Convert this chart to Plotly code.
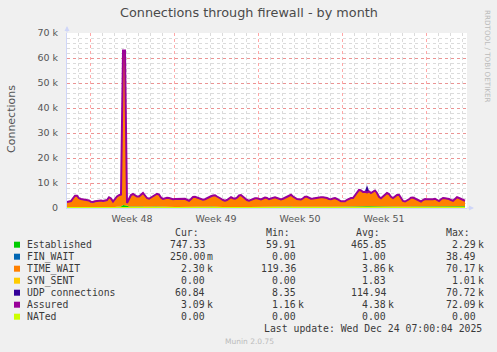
import plotly.graph_objects as go
import pandas as pd

# ---------------- data (values in thousands of connections) ----------------
START = "2025-11-21 02:00"
STEP = "4h"

ASSURED = [
    2.4, 2.6, 2.8, 3.9, 4.9, 4.9, 3.9, 3.6, 3.5, 3.4,
    3.3, 3.0, 2.5, 2.4, 2.7, 2.9, 3.0, 3.0, 2.8, 2.9,
    3.2, 4.3, 3.8, 2.6, 3.7, 4.6, 5.1, 5.4, 63.0, 63.0,
    2.0, 3.8, 5.2, 5.6, 5.0, 4.6, 4.6, 5.2, 6.0, 5.0,
    4.0, 3.7, 4.2, 4.4, 5.0, 5.7, 5.4, 4.2, 3.6, 3.9,
    4.1, 4.0, 3.7, 3.5, 3.6, 3.6, 3.7, 3.6, 3.6, 3.7,
    3.3, 2.9, 3.6, 4.4, 4.5, 4.2, 3.7, 3.5, 3.3, 3.5,
    4.0, 4.3, 4.7, 5.0, 5.1, 4.6, 4.0, 3.7, 3.2, 2.9,
    3.2, 3.8, 4.3, 3.9, 3.7, 4.1, 5.0, 5.2, 4.4, 3.7,
    3.2, 2.9, 3.3, 3.6, 3.9, 3.9, 3.6, 3.4, 3.8, 4.2,
    4.0, 3.5, 3.8, 4.0, 4.3, 4.0, 3.7, 3.4, 3.7, 4.1,
    4.5, 5.0, 5.3, 4.6, 4.0, 3.6, 3.5, 3.4, 3.9, 4.5,
    4.5, 4.0, 3.7, 3.8, 4.0, 4.2, 4.3, 4.3, 4.3, 4.3,
    4.0, 3.6, 3.5, 3.8, 4.0, 3.6, 3.0, 2.7, 2.7, 2.7,
    3.3, 3.8, 4.0, 4.0, 5.0, 6.1, 7.2, 7.0, 6.4, 6.5,
    6.2, 6.6, 6.0, 6.5, 7.0, 6.0, 4.5, 3.9, 4.6, 5.4,
    6.0, 5.6, 4.5, 4.0, 4.5, 5.2, 5.3, 4.2, 2.8, 2.6,
    2.9, 3.5, 4.1, 4.2, 3.8, 3.4, 2.8, 2.6, 3.2, 3.6,
    3.5, 3.4, 3.4, 3.5, 3.7, 3.1, 2.8, 3.5, 4.0, 3.9,
    3.8, 3.6, 3.2, 2.9, 3.6, 4.3, 4.0, 3.6, 3.3, 2.9,
]

TIME_WAIT = [
    1.8, 2.0, 2.2, 3.3, 4.3, 4.3, 3.3, 3.0, 2.9, 2.8,
    2.7, 2.4, 1.9, 1.8, 2.1, 2.3, 2.4, 2.4, 2.2, 2.3,
    2.6, 3.7, 3.2, 2.0, 3.1, 4.0, 4.5, 4.8, 61.0, 61.0,
    0.8, 3.2, 4.6, 5.0, 4.4, 4.0, 4.0, 4.6, 5.4, 4.4,
    3.4, 3.1, 3.6, 3.8, 4.4, 5.1, 4.8, 3.6, 3.0, 3.3,
    3.5, 3.4, 3.1, 2.9, 3.0, 3.0, 3.1, 3.0, 3.0, 3.1,
    2.7, 2.3, 3.0, 3.8, 3.9, 3.6, 3.1, 2.9, 2.7, 2.9,
    3.4, 3.7, 4.1, 4.4, 4.5, 4.0, 3.4, 3.1, 2.6, 2.3,
    2.6, 3.2, 3.7, 3.3, 3.1, 3.5, 4.4, 4.6, 3.8, 3.1,
    2.6, 2.3, 2.7, 3.0, 3.3, 3.3, 3.0, 2.8, 3.2, 3.6,
    3.4, 2.9, 3.2, 3.4, 3.7, 3.4, 3.1, 2.8, 3.1, 3.5,
    3.9, 4.4, 4.7, 4.0, 3.4, 3.0, 2.9, 2.8, 3.3, 3.9,
    3.9, 3.4, 3.1, 3.2, 3.4, 3.6, 3.7, 3.7, 3.7, 3.7,
    3.4, 3.0, 2.9, 3.2, 3.4, 3.0, 2.4, 2.1, 2.1, 2.1,
    2.7, 3.2, 3.4, 3.4, 4.4, 5.5, 6.6, 6.4, 5.8, 5.9,
    5.6, 6.0, 5.4, 5.9, 6.4, 5.4, 3.9, 3.3, 4.0, 4.8,
    5.4, 5.0, 3.9, 3.4, 3.9, 4.6, 4.7, 3.6, 2.2, 2.0,
    2.3, 2.9, 3.5, 3.6, 3.2, 2.8, 2.2, 2.0, 2.6, 3.0,
    2.9, 2.8, 2.8, 2.9, 3.1, 2.5, 2.2, 2.9, 3.4, 3.3,
    3.2, 3.0, 2.6, 2.3, 3.0, 3.7, 3.4, 3.0, 2.7, 2.3,
]

ESTABLISHED = [
    0.40, 0.42, 0.45, 0.50, 0.55, 0.50, 0.45, 0.42, 0.40, 0.40,
    0.38, 0.36, 0.35, 0.35, 0.38, 0.40, 0.42, 0.40, 0.38, 0.40,
    0.42, 0.50, 0.48, 0.40, 0.45, 0.52, 0.55, 0.60, 1.20, 1.20,
    1.00, 0.60, 0.65, 0.60, 0.55, 0.50, 0.55, 0.60, 0.65, 0.55,
    0.50, 0.45, 0.50, 0.55, 0.60, 0.65, 0.60, 0.50, 0.45, 0.48,
    0.50, 0.48, 0.45, 0.45, 0.45, 0.45, 0.48, 0.45, 0.45, 0.48,
    0.42, 0.40, 0.45, 0.55, 0.55, 0.52, 0.48, 0.45, 0.42, 0.45,
    0.50, 0.55, 0.60, 0.62, 0.62, 0.55, 0.50, 0.45, 0.42, 0.40,
    0.42, 0.48, 0.55, 0.50, 0.48, 0.52, 0.60, 0.62, 0.55, 0.48,
    0.42, 0.40, 0.42, 0.45, 0.48, 0.48, 0.45, 0.42, 0.45, 0.50,
    0.48, 0.45, 0.48, 0.50, 0.52, 0.50, 0.48, 0.45, 0.48, 0.52,
    0.55, 0.60, 0.62, 0.55, 0.50, 0.48, 0.45, 0.45, 0.50, 0.55,
    0.55, 0.52, 0.50, 0.52, 0.55, 0.55, 0.58, 0.58, 0.58, 0.58,
    0.55, 0.52, 0.50, 0.52, 0.55, 0.52, 0.48, 0.45, 0.45, 0.45,
    0.50, 0.55, 0.58, 0.60, 0.65, 0.70, 0.75, 0.75, 0.70, 0.70,
    0.70, 0.72, 0.70, 0.72, 0.75, 0.70, 0.60, 0.55, 0.60, 0.65,
    0.70, 0.68, 0.60, 0.58, 0.60, 0.65, 0.65, 0.58, 0.50, 0.48,
    0.50, 0.55, 0.60, 0.60, 0.58, 0.55, 0.50, 0.48, 0.52, 0.55,
    0.55, 0.55, 0.55, 0.55, 0.57, 0.52, 0.50, 0.55, 0.60, 0.58,
    0.58, 0.56, 0.52, 0.50, 0.55, 0.60, 0.58, 0.55, 0.52, 0.75,
]

UDP = [
    0.09, 0.10, 0.11, 0.12, 0.12, 0.11, 0.10, 0.10, 0.09, 0.09,
    0.09, 0.08, 0.08, 0.08, 0.09, 0.09, 0.10, 0.10, 0.09, 0.09,
    0.10, 0.12, 0.11, 0.09, 0.10, 0.12, 0.13, 0.14, 0.90, 0.90,
    0.12, 0.12, 0.13, 0.13, 0.12, 0.11, 0.12, 0.13, 0.14, 0.12,
    0.11, 0.10, 0.11, 0.12, 0.13, 0.14, 0.13, 0.11, 0.10, 0.11,
    0.11, 0.11, 0.10, 0.10, 0.10, 0.10, 0.11, 0.10, 0.10, 0.11,
    0.10, 0.09, 0.10, 0.12, 0.12, 0.11, 0.10, 0.10, 0.09, 0.10,
    0.11, 0.12, 0.13, 0.13, 0.13, 0.12, 0.11, 0.10, 0.09, 0.09,
    0.09, 0.11, 0.12, 0.11, 0.10, 0.11, 0.13, 0.13, 0.12, 0.10,
    0.09, 0.09, 0.09, 0.10, 0.11, 0.11, 0.10, 0.09, 0.10, 0.11,
    0.11, 0.10, 0.10, 0.11, 0.12, 0.11, 0.10, 0.10, 0.10, 0.11,
    0.12, 0.13, 0.13, 0.12, 0.11, 0.10, 0.10, 0.10, 0.11, 0.12,
    0.12, 0.11, 0.10, 0.11, 0.11, 0.12, 0.12, 0.12, 0.12, 0.12,
    0.11, 0.10, 0.10, 0.11, 0.11, 0.10, 0.09, 0.08, 0.08, 0.08,
    0.09, 0.10, 0.11, 0.11, 0.13, 0.15, 0.17, 0.17, 0.16, 0.16,
    2.80, 0.16, 0.15, 0.16, 0.17, 0.15, 0.12, 0.11, 0.12, 0.14,
    0.15, 0.14, 0.12, 0.11, 0.12, 0.13, 0.14, 0.12, 0.09, 0.08,
    0.09, 0.10, 0.11, 0.11, 0.10, 0.10, 0.09, 0.08, 0.09, 0.10,
    0.10, 0.09, 0.09, 0.10, 0.10, 0.09, 0.08, 0.09, 0.10, 0.10,
    0.10, 0.09, 0.09, 0.08, 0.09, 0.10, 0.10, 0.09, 0.08, 0.06,
]

FIN_WAIT = [
    0, 0, 0, 0, 0, 0, 0, 0, 0, 0, 0, 0, 0, 0, 0, 0, 0, 0, 0, 0,
    0, 0, 0, 0, 0, 0, 0, 0, 0, 0, 0, 0, 0, 0, 0, 0, 0, 0, 0, 0,
    0, 0, 0, 0, 0, 0, 0, 0, 0, 0, 0, 0, 0, 0, 0, 0, 0, 0, 0, 0,
    0, 0, 0, 0, 0, 0, 0, 0, 0, 0, 0, 0, 0, 0, 0, 0, 0, 0, 0, 0,
    0, 0, 0, 0, 0, 0, 0, 0, 0, 0, 0, 0, 0, 0, 0, 0, 0, 0, 0, 0,
    0, 0, 0, 0, 0, 0, 0, 0, 0, 0, 0, 0, 0, 0, 0, 0, 0, 0, 0, 0,
    0, 0, 0, 0, 0, 0, 0, 0, 0, 0, 0, 0, 0, 0, 0, 0, 0, 0, 0, 0,
    0, 0, 0, 0, 0, 0, 0, 0, 0, 0, 0, 0, 0, 0, 0, 0, 0, 0, 0, 0,
    0, 0, 0, 0, 0, 0, 0, 0, 0, 0, 0, 0, 0, 0, 0, 0, 0, 0, 0, 0,
    0, 0, 0, 0, 0, 0, 0, 0, 0, 0, 0, 0, 0, 0, 0, 0, 0, 0, 0, 0,
]

SYN_SENT = [
    0, 0, 0, 0, 0, 0, 0, 0, 0, 0, 0, 0, 0, 0, 0, 0, 0, 0, 0, 0,
    0, 0, 0, 0, 0, 0, 0, 0, 0, 0, 0, 0, 0, 0, 0, 0, 0, 0, 0, 0,
    0, 0, 0, 0, 0, 0, 0, 0, 0, 0, 0, 0, 0, 0, 0, 0, 0, 0, 0, 0,
    0, 0, 0, 0, 0, 0, 0, 0, 0, 0, 0, 0, 0, 0, 0, 0, 0, 0, 0, 0,
    0, 0, 0, 0, 0, 0, 0, 0, 0, 0, 0, 0, 0, 0, 0, 0, 0, 0, 0, 0,
    0, 0, 0, 0, 0, 0, 0, 0, 0, 0, 0, 0, 0, 0, 0, 0, 0, 0, 0, 0,
    0, 0, 0, 0, 0, 0, 0, 0, 0, 0, 0, 0, 0, 0, 0, 0, 0, 0, 0, 0,
    0, 0, 0, 0, 0, 0, 0, 0, 0, 0, 0, 0, 0, 0, 0, 0, 0, 0, 0, 0,
    0, 0, 0, 0, 0, 0, 0, 0, 0, 0, 0, 0, 0, 0, 0, 0, 0, 0, 0, 0,
    0, 0, 0, 0, 0, 0, 0, 0, 0, 0, 0, 0, 0, 0, 0, 0, 0, 0, 0, 0,
]

NATED = [
    0, 0, 0, 0, 0, 0, 0, 0, 0, 0, 0, 0, 0, 0, 0, 0, 0, 0, 0, 0,
    0, 0, 0, 0, 0, 0, 0, 0, 0, 0, 0, 0, 0, 0, 0, 0, 0, 0, 0, 0,
    0, 0, 0, 0, 0, 0, 0, 0, 0, 0, 0, 0, 0, 0, 0, 0, 0, 0, 0, 0,
    0, 0, 0, 0, 0, 0, 0, 0, 0, 0, 0, 0, 0, 0, 0, 0, 0, 0, 0, 0,
    0, 0, 0, 0, 0, 0, 0, 0, 0, 0, 0, 0, 0, 0, 0, 0, 0, 0, 0, 0,
    0, 0, 0, 0, 0, 0, 0, 0, 0, 0, 0, 0, 0, 0, 0, 0, 0, 0, 0, 0,
    0, 0, 0, 0, 0, 0, 0, 0, 0, 0, 0, 0, 0, 0, 0, 0, 0, 0, 0, 0,
    0, 0, 0, 0, 0, 0, 0, 0, 0, 0, 0, 0, 0, 0, 0, 0, 0, 0, 0, 0,
    0, 0, 0, 0, 0, 0, 0, 0, 0, 0, 0, 0, 0, 0, 0, 0, 0, 0, 0, 0,
    0, 0, 0, 0, 0, 0, 0, 0, 0, 0, 0, 0, 0, 0, 0, 0, 0, 0, 0, 0,
]

SERIES_NAMES = ["Established", "FIN_WAIT", "TIME_WAIT", "SYN_SENT",
                "UDP connections", "Assured", "NATed"]
COLORS = ["#00CC00", "#0066B3", "#FF8000", "#FFCC00",
          "#330099", "#990099", "#CCFF00"]
CUR = ["747.33", "250.00m", "2.30k", "0.00", "60.84", "3.09k", "0.00"]
MIN = ["59.91", "0.00", "119.36", "0.00", "8.35", "1.16k", "0.00"]
AVG = ["465.85", "1.00", "3.86k", "1.83", "114.94", "4.38k", "0.00"]
MAX = ["2.29k", "38.49", "70.17k", "1.01k", "70.72k", "72.09k", "0.00"]
LAST_UPDATE = "Last update: Wed Dec 24 07:00:04 2025"

Y_TICKS = [0, 10, 20, 30, 40, 50, 60, 70]
Y_TICK_LABELS = ["0", "10 k", "20 k", "30 k", "40 k", "50 k", "60 k", "70 k"]
WEEK_LABELS = ["Week 48", "Week 49", "Week 50", "Week 51"]
WEEK_LABEL_TIMES = ["2025-11-26 12:00", "2025-12-03 12:00",
                    "2025-12-10 12:00", "2025-12-17 12:00"]
X_RANGE = ["2025-11-21 02:00", "2025-12-24 10:00"]
WEEK_START = "2025-11-23"

# ---------------- figure ----------------
times = pd.date_range(START, periods=len(ASSURED), freq=STEP)

W, H = 497, 352
L, R, T, B = 67, 467, 33, 208


def PX(x):
    return (x - L) / (R - L)


def PY(y):
    return (B - y) / (B - T)


fig = go.Figure()

stack = [(0, ESTABLISHED), (1, FIN_WAIT), (2, TIME_WAIT), (3, SYN_SENT), (4, UDP)]
for idx, vals in stack:
    fig.add_trace(go.Scatter(
        x=times, y=vals, name=SERIES_NAMES[idx], stackgroup="conn",
        mode="lines", line=dict(width=0, color=COLORS[idx]),
        fillcolor=COLORS[idx], hoverinfo="skip", showlegend=False))

fig.add_trace(go.Scatter(
    x=times, y=ASSURED, name=SERIES_NAMES[5], mode="lines",
    line=dict(width=2, color=COLORS[5]), hoverinfo="skip", showlegend=False))

fig.add_trace(go.Scatter(
    x=times, y=NATED, name=SERIES_NAMES[6], mode="lines", xaxis="x2",
    line=dict(width=2, color=COLORS[6]), hoverinfo="skip", showlegend=False))

PINK = "rgba(255,60,60,0.45)"
GREY = "rgba(195,195,195,0.6)"
AXIS = "#CFD6F8"
TICKFONT = dict(family="DejaVu Sans", size=9.5, color="#555555")

fig.update_layout(
    width=W, height=H,
    margin=dict(l=L, r=W - R, t=T, b=H - B),
    paper_bgcolor="#F0F0F0", plot_bgcolor="#FFFFFF",
    font=dict(family="DejaVu Sans", color="#555555"),
    xaxis=dict(
        type="date", range=X_RANGE, tick0=WEEK_START, dtick=7 * 86400000,
        showticklabels=False, ticks="", showgrid=True, gridcolor=PINK,
        griddash="dot", gridwidth=1, zeroline=False,
        showline=True, linecolor=AXIS, linewidth=1,
        minor=dict(tick0=WEEK_START, dtick=86400000, showgrid=True,
                   gridcolor=GREY, griddash="dot", gridwidth=1, ticks=""),
    ),
    xaxis2=dict(
        type="date", range=X_RANGE, overlaying="x", side="bottom",
        tickmode="array", tickvals=WEEK_LABEL_TIMES, ticktext=WEEK_LABELS,
        showgrid=False, zeroline=False, showline=False, ticks="",
        tickfont=TICKFONT, ticklabelstandoff=3,
    ),
    yaxis=dict(
        range=[0, 70], tickmode="array", tickvals=Y_TICKS, ticktext=Y_TICK_LABELS,
        showgrid=True, gridcolor=PINK, griddash="dot", gridwidth=1,
        zeroline=False, showline=True, linecolor=AXIS, linewidth=1,
        ticks="", tickfont=TICKFONT, ticklabelstandoff=6,
        minor=dict(dtick=2, showgrid=True, gridcolor=GREY, griddash="dot",
                   gridwidth=1, ticks=""),
    ),
)

ann = []


def text(x, y, s, size, color, family="DejaVu Sans", xanchor="center",
         yanchor="middle", angle=0):
    ann.append(dict(x=PX(x), y=PY(y), xref="paper", yref="paper", text=s,
                    showarrow=False, xanchor=xanchor, yanchor=yanchor,
                    textangle=angle, borderpad=0,
                    font=dict(family=family, size=size, color=color)))


# title, axis title, side texts
text(248.5, 13, "Connections through firewall - by month", 12.8, "#4a4a4a")
text(11, 119, "Connections", 11, "#555555", angle=-90)
text(488, 56, "RRDTOOL / TOBI OETIKER", 7.2, "#BBBBBB", angle=90)
text(249, 341, "Munin 2.0.75", 7.5, "#BBBBBB")

# legend table
MONO = "DejaVu Sans Mono"
FS = 9.8
LEG = "#3a3a3a"
COL_RIGHT = [206, 297, 387, 477]
HEADERS = ["Cur:", "Min:", "Avg:", "Max:"]
ROW0 = 232.7
for c, hdr in enumerate(HEADERS):
    text(COL_RIGHT[c] - 6, ROW0, hdr, FS, LEG, family=MONO, xanchor="right")

for r, name in enumerate(SERIES_NAMES):
    y = ROW0 + 12 * (r + 1)
    fig.add_shape(type="rect", xref="paper", yref="paper",
                  x0=PX(14), x1=PX(20), y0=PY(y + 3), y1=PY(y - 3),
                  fillcolor=COLORS[r], line=dict(width=0))
    text(26, y, name, FS, LEG, family=MONO, xanchor="left")
    for c, col in enumerate([CUR, MIN, AVG, MAX]):
        s = col[r]
        if s[-1].isalpha():
            num, unit = s[:-1], s[-1]
        else:
            num, unit = s, ""
        text(COL_RIGHT[c], y, num, FS, LEG, family=MONO, xanchor="right")
        if unit:
            text(COL_RIGHT[c], y, unit, FS, LEG, family=MONO, xanchor="left")

text(483, ROW0 + 12 * 8, LAST_UPDATE, FS, LEG, family=MONO, xanchor="right")

# axis arrows
ann.append(dict(x=PX(67), y=PY(26), xref="paper", yref="paper", text="",
                showarrow=True, ax=0, ay=8, arrowhead=2, arrowsize=1,
                arrowwidth=1, arrowcolor=AXIS))
ann.append(dict(x=PX(474), y=PY(208), xref="paper", yref="paper", text="",
                showarrow=True, ax=-8, ay=0, arrowhead=2, arrowsize=1,
                arrowwidth=1, arrowcolor=AXIS))

fig.update_layout(annotations=ann)
fig.write_html("out.html")
